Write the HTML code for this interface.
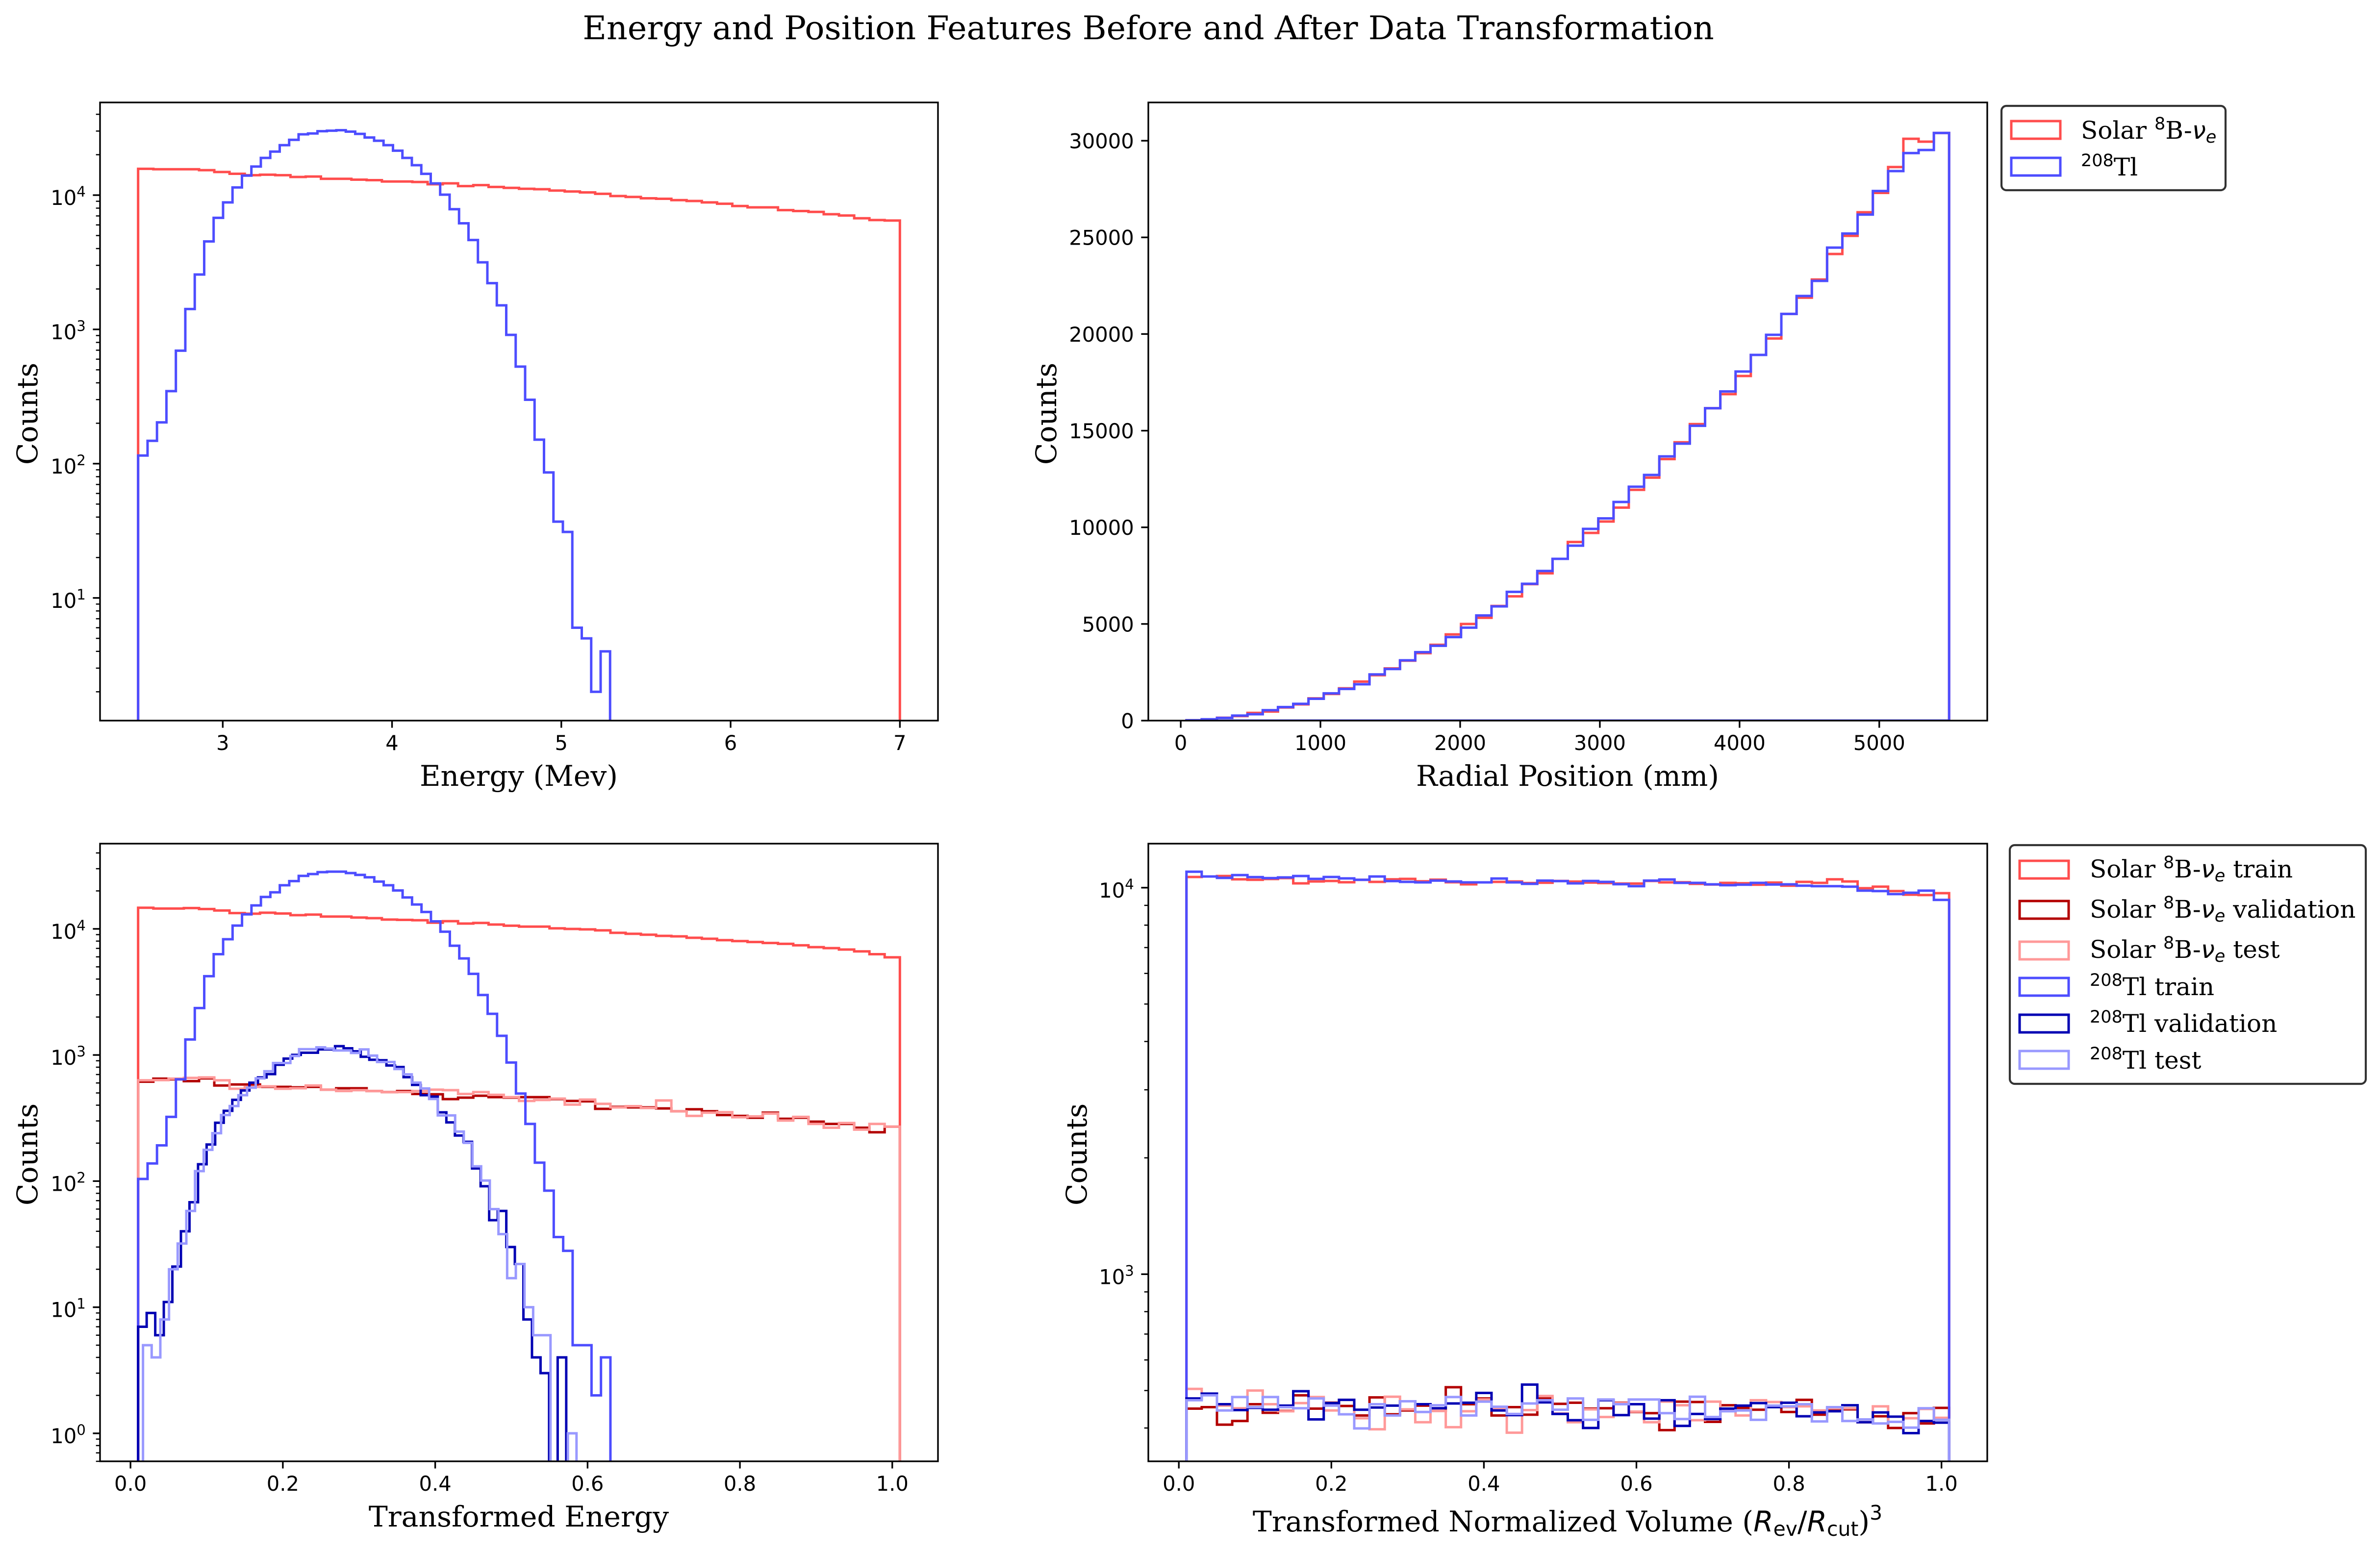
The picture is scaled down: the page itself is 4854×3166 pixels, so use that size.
<!DOCTYPE html>
<html lang="en">
<head>
<meta charset="utf-8">
<title>Energy and Position Features Before and After Data Transformation</title>
<style>
html,body{margin:0;padding:0;background:#fff;width:4854px;height:3166px;overflow:hidden;}
svg{display:block;overflow:hidden;}
.serif{font-family:"DejaVu Serif","Liberation Serif",serif;fill:#000;}
.sans{font-family:"DejaVu Sans","Liberation Sans",sans-serif;}
.math{font-family:"DejaVu Sans","Liberation Sans",sans-serif;}
.it{font-style:italic;}
</style>
</head>
<body>
<svg id="figure" xmlns="http://www.w3.org/2000/svg" width="4854" height="3166" viewBox="0 0 4854 3166">
<rect x="0" y="0" width="4854" height="3166" fill="#ffffff"/>
<text class="serif" x="2342" y="80" font-size="66.67" text-anchor="middle">Energy and Position Features Before and After Data Transformation</text>

<g id="panel-energy"></g>
<g id="panel-radial"></g>
<g id="panel-tenergy"></g>
<g id="panel-tvolume"></g>

<text class="serif" x="1058" y="1603" font-size="58.33" text-anchor="middle">Energy (Mev)</text>
<text class="serif" font-size="58.33" text-anchor="middle" transform="translate(76 844) rotate(-90)">Counts</text>
<text class="serif" x="3197" y="1603" font-size="58.33" text-anchor="middle">Radial Position (mm)</text>
<text class="serif" font-size="58.33" text-anchor="middle" transform="translate(2154 844) rotate(-90)">Counts</text>
<text class="serif" x="1058" y="3114" font-size="58.33" text-anchor="middle">Transformed Energy</text>
<text class="serif" font-size="58.33" text-anchor="middle" transform="translate(76 2355) rotate(-90)">Counts</text>
<text class="serif" x="3197" y="3124" font-size="58.33" text-anchor="middle">Transformed Normalized Volume (<tspan class="math it">R</tspan><tspan class="math" font-size="40.8" dy="9">ev</tspan><tspan class="math" dy="-9">/</tspan><tspan class="math it">R</tspan><tspan class="math" font-size="40.8" dy="9">cut</tspan><tspan dy="-9">)</tspan><tspan class="math" font-size="40.8" dy="-24">3</tspan></text>
<text class="serif" font-size="58.33" text-anchor="middle" transform="translate(2216 2355) rotate(-90)">Counts</text>

<g>
  <rect x="4082" y="216" width="457" height="172" rx="10" ry="10" fill="#ffffff" stroke="#333333" stroke-width="4.17"/>
  <rect x="4102" y="247" width="100" height="36" fill="none" stroke="#ff4d4d" stroke-width="5"/>
  <text class="serif" x="4244" y="283" font-size="50">Solar <tspan class="math" font-size="35" dy="-19">8</tspan><tspan dy="19">B-</tspan><tspan class="math it">ν</tspan><tspan class="math it" font-size="35" dy="8">e</tspan></text>
  <rect x="4102" y="322" width="100" height="36" fill="none" stroke="#4d4dff" stroke-width="5"/>
  <text class="serif" x="4244" y="358" font-size="50"><tspan class="math" font-size="35" dy="-19">208</tspan><tspan dy="19">Tl</tspan></text>
</g>

<g>
  <rect x="4099" y="1724" width="726" height="487" rx="10" ry="10" fill="#ffffff" stroke="#333333" stroke-width="4.17"/>
  <rect x="4119" y="1756" width="100" height="36" fill="none" stroke="#ff4d4d" stroke-width="5"/>
  <text class="serif" x="4262" y="1790" font-size="50">Solar <tspan class="math" font-size="35" dy="-19">8</tspan><tspan dy="19">B-</tspan><tspan class="math it">ν</tspan><tspan class="math it" font-size="35" dy="8">e</tspan><tspan dy="-8"> train</tspan></text>
  <rect x="4119" y="1838" width="100" height="36" fill="none" stroke="#b30000" stroke-width="5"/>
  <text class="serif" x="4262" y="1872" font-size="50">Solar <tspan class="math" font-size="35" dy="-19">8</tspan><tspan dy="19">B-</tspan><tspan class="math it">ν</tspan><tspan class="math it" font-size="35" dy="8">e</tspan><tspan dy="-8"> validation</tspan></text>
  <rect x="4119" y="1921" width="100" height="36" fill="none" stroke="#ff9999" stroke-width="5"/>
  <text class="serif" x="4262" y="1954" font-size="50">Solar <tspan class="math" font-size="35" dy="-19">8</tspan><tspan dy="19">B-</tspan><tspan class="math it">ν</tspan><tspan class="math it" font-size="35" dy="8">e</tspan><tspan dy="-8"> test</tspan></text>
  <rect x="4119" y="1995" width="100" height="36" fill="none" stroke="#4d4dff" stroke-width="5"/>
  <text class="serif" x="4262" y="2030" font-size="50"><tspan class="math" font-size="35" dy="-19">208</tspan><tspan dy="19">Tl train</tspan></text>
  <rect x="4119" y="2070" width="100" height="36" fill="none" stroke="#0000b3" stroke-width="5"/>
  <text class="serif" x="4262" y="2105" font-size="50"><tspan class="math" font-size="35" dy="-19">208</tspan><tspan dy="19">Tl validation</tspan></text>
  <rect x="4119" y="2144" width="100" height="36" fill="none" stroke="#9999ff" stroke-width="5"/>
  <text class="serif" x="4262" y="2180" font-size="50"><tspan class="math" font-size="35" dy="-19">208</tspan><tspan dy="19">Tl test</tspan></text>
</g>
</svg>

<script>
// ---- Energy panel data ----
const energySolarCounts = [15700,15580,15580,15580,15340,14870,14420,14080,14190,14080,13650,13760,13230,13230,13030,12930,12630,12630,12530,12050,12240,11680,11870,11500,11330,11150,11060,10810,10640,10480,10230,9845,9694,9470,9397,9180,9040,8830,8630,8300,8110,8110,7735,7615,7500,7210,7050,6725,6520,6470];
const energyTlCounts = [115,148,203,347,694,1419,2564,4520,6776,8830,11410,13970,16320,18930,21090,23550,25820,28380,28780,29920,30180,30430,29720,28580,26850,25410,23550,21430,18930,16710,14410,12230,10080,7860,6170,4630,3160,2210,1510,910,528,299,151,86,37,31,6,5,2,4];
const energySolarRange = [2.5, 7];
const energyTlRange = [2.5, 5.288];
const energyXTicks = [3, 4, 5, 6, 7];
const energyYDecades = [1, 2, 3, 4];

// ---- Radial panel data ----
const radialSolarCounts = [15,60,150,235,400,470,680,840,1150,1380,1670,2020,2350,2700,3100,3490,3920,4460,5000,5320,5930,6430,7060,7620,8370,9240,9710,10300,11020,11940,12570,13530,14400,15340,16160,16890,17830,18920,19770,21040,21880,22820,24140,25080,26300,27300,28640,30100,29950,30400];
const radialTlCounts = [20,70,140,260,330,540,700,870,1130,1410,1640,1880,2390,2670,3120,3540,3870,4320,4810,5440,5910,6660,7080,7740,8370,9050,9920,10460,11310,12100,12710,13670,14330,15250,16160,17030,18060,18920,19960,21040,21970,22750,24470,25200,26180,27400,28430,29360,29520,30400];
const radialRange = [41, 5500];
const radialXTicks = [0, 1000, 2000, 3000, 4000, 5000];
const radialYTicks = [0, 5000, 10000, 15000, 20000, 25000, 30000];

// ---- Transformed energy panel data ----
const tEnergySolarTrain = [14700,14490,14490,14620,14360,13990,13350,13190,13430,13240,12850,12970,12520,12520,12300,12160,11850,11790,11700,11200,11510,11020,11150,10830,10600,10420,10420,10100,9990,9910,9730,9310,9140,8990,8800,8720,8500,8350,8140,8000,7870,7730,7610,7410,7160,7040,6860,6630,6300,5950];
const tEnergySolarValidation = [614,649,641,620,652,573,584,584,559,559,554,559,531,545,545,518,508,518,491,488,447,459,475,463,459,463,463,447,432,429,374,388,384,384,377,358,371,358,334,329,318,349,312,318,296,284,284,265,244,270];
const tEnergySolarTest = [630,632,649,658,664,630,540,559,564,540,545,573,531,518,526,518,508,508,518,531,526,491,508,483,463,432,440,451,404,443,410,384,393,380,436,358,329,349,352,321,326,343,302,323,284,265,289,256,284,270];
const tEnergyTlTrain = [104,138,192,323,641,1327,2355,4217,6300,8280,10620,13040,15350,17910,19500,22170,23940,26320,27210,28180,28430,28430,27690,26790,25650,23720,22170,20170,17740,15600,13610,11470,9500,7350,5830,4400,2990,2120,1420,871,495,284,140,84,36,28,5,5,2,4];
const tEnergyTlValidation = [7,9,6,11,21,40,68,136,195,290,361,441,523,603,664,705,837,936,1002,1042,1042,1107,1107,1175,1130,1069,968,916,908,826,802,667,579,480,468,351,292,230,205,126,91,49,58,30,22,8,4,3,0,4];
const tEnergyTlTest = [5,4,8,20,32,58,120,177,240,334,394,480,550,653,743,864,864,982,1112,1112,1150,1125,1086,1086,1037,1107,989,880,880,774,702,604,543,448,332,332,247,201,131,101,60,38,17,22,10,6,6,0,0,1];
const tEnergySolarRange = [0.01, 1.01];
const tEnergyTlTrainRange = [0.01, 0.63];
const tEnergyTlValidationRange = [0.01, 0.572];
const tEnergyTlTestRange = [0.0164, 0.5855];
const unitXTicks = ['0.0', '0.2', '0.4', '0.6', '0.8', '1.0'];
const tEnergyYDecades = [0, 1, 2, 3, 4];

// ---- Transformed volume panel data ----
const tVolumeSolarTrain = [10660,10690,10720,10510,10480,10530,10590,10260,10380,10410,10330,10480,10350,10510,10540,10390,10490,10330,10200,10320,10350,10380,10280,10300,10410,10370,10310,10280,10250,10250,10410,10320,10330,10230,10190,10290,10270,10180,10310,10120,10350,10290,10510,10380,9970,10060,9800,9590,9570,9680];
const tVolumeSolarValidation = [449,453,408,417,461,438,443,486,449,465,456,431,480,434,444,457,443,510,461,477,431,453,433,477,462,465,449,450,465,440,437,395,468,467,415,458,451,446,455,440,473,433,444,447,414,429,400,437,411,451];
const tVolumeSolarTest = [505,488,457,450,500,461,442,464,481,444,473,424,397,482,447,414,443,402,442,474,450,389,445,484,436,414,447,427,464,441,414,468,458,419,468,446,431,472,467,453,455,444,450,450,421,455,415,424,448,425];
const tVolumeTlTrain = [11000,10690,10600,10780,10650,10590,10630,10720,10540,10660,10570,10480,10690,10400,10350,10320,10430,10380,10320,10320,10560,10320,10230,10430,10400,10260,10410,10350,10210,10090,10430,10500,10290,10290,10200,10150,10180,10290,10190,10200,10120,10090,10090,10060,9826,9800,9628,9703,9826,9297];
const tVolumeTlValidation = [477,491,461,445,451,446,457,498,421,464,473,446,452,457,469,461,450,463,465,493,444,432,518,466,435,419,400,472,432,461,423,472,405,435,422,449,457,464,453,465,429,439,442,458,414,439,428,388,417,413];
const tVolumeTlTest = [472,486,444,481,453,481,453,450,477,457,434,399,461,431,469,440,458,481,431,468,454,435,463,472,446,477,420,474,461,474,474,437,422,482,427,442,444,420,457,455,461,416,453,417,421,411,415,401,450,420];
const tVolumeRange = [0.01, 1.01];
const tVolumeYDecades = [3, 4];

const SVG_NS = 'http://www.w3.org/2000/svg';
const RED_TRAIN = '#ff4d4d', RED_VAL = '#b30000', RED_TEST = '#ff9999';
const BLUE_TRAIN = '#4d4dff', BLUE_VAL = '#0000b3', BLUE_TEST = '#9999ff';
const MAJOR_LEN = 14.6, MINOR_LEN = 8.3, TICK_PAD = 14.6;

function make(tag, parent, attrs) {
  const el = document.createElementNS(SVG_NS, tag);
  for (const k in attrs) el.setAttribute(k, attrs[k]);
  parent.appendChild(el);
  return el;
}
function linearScale(d0, d1, p0, p1) {
  return function (v) { return p0 + (v - d0) * (p1 - p0) / (d1 - d0); };
}
function logScale(d0, d1, p0, p1) {
  const a = Math.log10(d0), b = Math.log10(d1);
  return function (v) {
    if (v <= 0) return p0 + 40;
    return p0 + (Math.log10(v) - a) * (p1 - p0) / (b - a);
  };
}
function drawFrame(panel, box) {
  const clipId = panel.id + '-clip';
  const defs = make('defs', panel, {});
  const clip = make('clipPath', defs, { id: clipId });
  make('rect', clip, { x: box.left, y: box.top, width: box.right - box.left, height: box.bottom - box.top });
  const plot = make('g', panel, { 'clip-path': 'url(#' + clipId + ')' });
  
  
  return plot;
}
function drawSpines(panel, box) {
  const frame = make('rect', panel, { x: box.left, y: box.top, width: box.right - box.left, height: box.bottom - box.top, fill: 'none', stroke: '#000', 'stroke-width': 3.33 });
  
  
}
function drawHist(plot, counts, range, color, name, xs, ys) {
  const n = counts.length;
  const base = ys(0);
  let d = 'M' + xs(range[0]).toFixed(2) + ' ' + base.toFixed(2);
  for (let i = 0; i < n; i++) {
    const a = xs(range[0] + (range[1] - range[0]) * i / n);
    const b = xs(range[0] + (range[1] - range[0]) * (i + 1) / n);
    const y = ys(counts[i]);
    d += 'L' + a.toFixed(2) + ' ' + y.toFixed(2) + 'L' + b.toFixed(2) + ' ' + y.toFixed(2);
  }
  d += 'L' + xs(range[1]).toFixed(2) + ' ' + base.toFixed(2) + 'Z';
  const line = make('path', plot, { d: d, fill: 'none', stroke: color, 'stroke-width': 5, 'stroke-linejoin': 'miter', 'stroke-miterlimit': 20 });
  
  
}
function drawXTicks(panel, box, values, labels, xs) {
  values.forEach(function (v, i) {
    const x = xs(v);
    const tick = make('line', panel, { x1: x, x2: x, y1: box.bottom, y2: box.bottom + MAJOR_LEN, stroke: '#000', 'stroke-width': 3.33 });
    
    
    const label = make('text', panel, { x: x, y: box.bottom + MAJOR_LEN + TICK_PAD + 31, 'font-size': 41.67, 'text-anchor': 'middle', class: 'sans' });
    
    
    label.textContent = labels[i];
  });
}
function drawYTicksLinear(panel, box, values, ys) {
  values.forEach(function (v) {
    const y = ys(v);
    const tick = make('line', panel, { x1: box.left - MAJOR_LEN, x2: box.left, y1: y, y2: y, stroke: '#000', 'stroke-width': 3.33 });
    
    
    const label = make('text', panel, { x: box.left - MAJOR_LEN - TICK_PAD, y: y + 15.5, 'font-size': 41.67, 'text-anchor': 'end', class: 'sans' });
    
    
    label.textContent = String(v);
  });
}
function drawYTicksLog(panel, box, decades, ys) {
  const low = Math.min.apply(null, decades) - 1;
  const high = Math.max.apply(null, decades);
  for (let e = low; e <= high; e++) {
    for (let m = 2; m <= 9; m++) {
      const y = ys(m * Math.pow(10, e));
      if (y < box.top || y > box.bottom) continue;
      const minor = make('line', panel, { x1: box.left - MINOR_LEN, x2: box.left, y1: y, y2: y, stroke: '#000', 'stroke-width': 2.5 });
      
      
    }
  }
  decades.forEach(function (e) {
    const y = ys(Math.pow(10, e));
    const tick = make('line', panel, { x1: box.left - MAJOR_LEN, x2: box.left, y1: y, y2: y, stroke: '#000', 'stroke-width': 3.33 });
    
    
    const label = make('text', panel, { x: box.left - MAJOR_LEN - TICK_PAD, y: y + 20, 'font-size': 41.67, 'text-anchor': 'end', class: 'sans' });
    
    
    label.textContent = '10';
    const sup = make('tspan', label, { dy: -17, 'font-size': 29.2 });
    sup.textContent = String(e);
  });
}

// Energy panel
(function () {
  const panel = document.getElementById('panel-energy');
  const box = { left: 204, right: 1913, top: 209, bottom: 1470 };
  const xs = linearScale(2.275, 7.225, box.left, box.right);
  const ys = logScale(1.22, 49000, box.bottom, box.top);
  const plot = drawFrame(panel, box);
  drawHist(plot, energySolarCounts, energySolarRange, RED_TRAIN, 'solar-hist', xs, ys);
  drawHist(plot, energyTlCounts, energyTlRange, BLUE_TRAIN, 'tl-hist', xs, ys);
  drawXTicks(panel, box, energyXTicks, energyXTicks.map(String), xs);
  drawYTicksLog(panel, box, energyYDecades, ys);
  drawSpines(panel, box);
})();

// Radial panel
(function () {
  const panel = document.getElementById('panel-radial');
  const box = { left: 2342, right: 4053, top: 209, bottom: 1470 };
  const xs = linearScale(-232, 5773, box.left, box.right);
  const ys = linearScale(0, 31980, box.bottom, box.top);
  const plot = drawFrame(panel, box);
  drawHist(plot, radialSolarCounts, radialRange, RED_TRAIN, 'solar-hist', xs, ys);
  drawHist(plot, radialTlCounts, radialRange, BLUE_TRAIN, 'tl-hist', xs, ys);
  drawXTicks(panel, box, radialXTicks, radialXTicks.map(String), xs);
  drawYTicksLinear(panel, box, radialYTicks, ys);
  drawSpines(panel, box);
})();

// Transformed energy panel
(function () {
  const panel = document.getElementById('panel-tenergy');
  const box = { left: 204, right: 1913, top: 1721, bottom: 2981 };
  const xs = linearScale(-0.04, 1.06, box.left, box.right);
  const ys = logScale(0.6, 47400, box.bottom, box.top);
  const plot = drawFrame(panel, box);
  drawHist(plot, tEnergySolarTrain, tEnergySolarRange, RED_TRAIN, 'solar-train-hist', xs, ys);
  drawHist(plot, tEnergySolarValidation, tEnergySolarRange, RED_VAL, 'solar-validation-hist', xs, ys);
  drawHist(plot, tEnergySolarTest, tEnergySolarRange, RED_TEST, 'solar-test-hist', xs, ys);
  drawHist(plot, tEnergyTlTrain, tEnergyTlTrainRange, BLUE_TRAIN, 'tl-train-hist', xs, ys);
  drawHist(plot, tEnergyTlValidation, tEnergyTlValidationRange, BLUE_VAL, 'tl-validation-hist', xs, ys);
  drawHist(plot, tEnergyTlTest, tEnergyTlTestRange, BLUE_TEST, 'tl-test-hist', xs, ys);
  drawXTicks(panel, box, unitXTicks.map(Number), unitXTicks, xs);
  drawYTicksLog(panel, box, tEnergyYDecades, ys);
  drawSpines(panel, box);
})();

// Transformed volume panel
(function () {
  const panel = document.getElementById('panel-tvolume');
  const box = { left: 2342, right: 4053, top: 1721, bottom: 2981 };
  const xs = linearScale(-0.04, 1.06, box.left, box.right);
  const ys = logScale(328, 13000, box.bottom, box.top);
  const plot = drawFrame(panel, box);
  drawHist(plot, tVolumeSolarTrain, tVolumeRange, RED_TRAIN, 'solar-train-hist', xs, ys);
  drawHist(plot, tVolumeSolarValidation, tVolumeRange, RED_VAL, 'solar-validation-hist', xs, ys);
  drawHist(plot, tVolumeSolarTest, tVolumeRange, RED_TEST, 'solar-test-hist', xs, ys);
  drawHist(plot, tVolumeTlTrain, tVolumeRange, BLUE_TRAIN, 'tl-train-hist', xs, ys);
  drawHist(plot, tVolumeTlValidation, tVolumeRange, BLUE_VAL, 'tl-validation-hist', xs, ys);
  drawHist(plot, tVolumeTlTest, tVolumeRange, BLUE_TEST, 'tl-test-hist', xs, ys);
  drawXTicks(panel, box, unitXTicks.map(Number), unitXTicks, xs);
  drawYTicksLog(panel, box, tVolumeYDecades, ys);
  drawSpines(panel, box);
})();
</script>
</body>
</html>
